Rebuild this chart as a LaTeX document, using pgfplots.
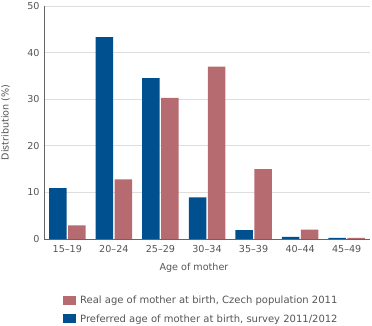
\documentclass[border=0pt]{standalone}
\usepackage{pgfplots}
\pgfplotsset{compat=1.18}
\usepackage{fontspec}
\setmainfont{DejaVu Sans}
\definecolor{cblue}{HTML}{00508F}
\definecolor{cred}{HTML}{B56B6F}
\definecolor{tgray}{HTML}{555555}
\begin{document}
\begin{tikzpicture}
\useasboundingbox (0,0) rectangle (372pt,325pt);
\begin{axis}[
  at={(44pt,86pt)}, anchor=south west,
  scale only axis, width=326pt, height=233pt,
  font=\fontsize{9.6}{11}\selectfont\color{tgray},
  /pgf/number format/assume math mode=true,
  xmin=-0.5, xmax=6.5, ymin=0, ymax=50,
  ytick={0,10,...,50},
  xtick={0,...,6},
  xticklabels={15–19,20–24,25–29,30–34,35–39,40–44,45–49},
  axis x line*=bottom, axis y line*=left,
  x axis line style={draw=none},
  y axis line style={draw=gray!80!black, line width=0.9pt, -},
  major tick length=0pt,
  ymajorgrids, grid style={draw=black!13, line width=0.9pt},
  ylabel={Distribution (\%)}, xlabel={Age of mother},
  ylabel style={at={(axis description cs:-0.118,0.5)}, anchor=center},
  xlabel style={at={(axis description cs:0.46,0)}, anchor=north, yshift=-21pt},
  yticklabel style={xshift=-1pt},
  xticklabel style={yshift=-3pt},
  ybar, bar width=17.5pt,
  legend cell align=left,
  reverse legend,
  legend style={at={(axis description cs:0.049,-0.228)}, anchor=north west, draw=none, fill=none,
    row sep=5pt, font=\fontsize{10}{11}\selectfont\color{tgray}},
  legend image code/.code={\fill[#1] (0pt,-4.5pt) rectangle (13pt,5pt);},
  every axis legend/.append style={nodes={inner xsep=4pt}},
]
\addplot[fill=cblue, draw=none, bar shift=-9.5pt] coordinates {
 (0,10.9) (1,43.3) (2,34.5) (3,8.95) (4,1.9) (5,0.45) (6,0.25)};
\addlegendentry{Preferred age of mother at birth, survey 2011/2012}
\addplot[fill=cred, draw=none, bar shift=9.5pt] coordinates {
 (0,2.9) (1,12.8) (2,30.3) (3,37.0) (4,15.0) (5,2.0) (6,0.25)};
\addlegendentry{Real age of mother at birth, Czech population 2011}
\draw[gray!80!black, line width=1.6pt] ([yshift=-0.8pt]axis description cs:0,0) -- ([yshift=-0.8pt]axis description cs:1,0);
\end{axis}
\end{tikzpicture}
\end{document}
